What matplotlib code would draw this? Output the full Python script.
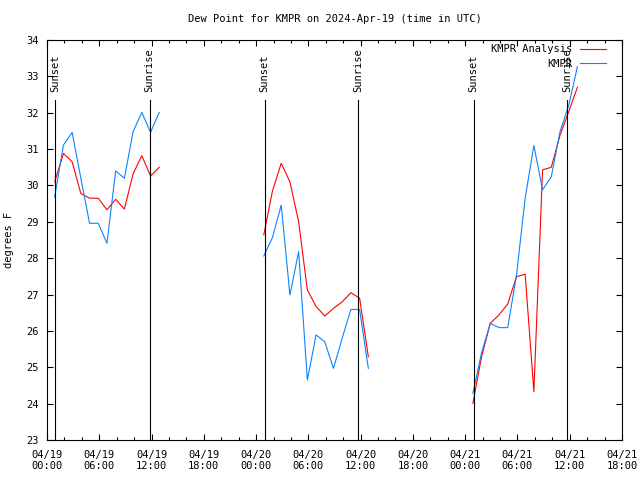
import matplotlib
matplotlib.use('Agg')
import numpy as np
import pandas as pd
import matplotlib.pyplot as plt
import matplotlib.dates as mdates
from matplotlib.ticker import MultipleLocator

# hourly obs times (METAR at :53) for each of the three nights
day_starts = ['2024-04-19 00:53', '2024-04-20 00:53', '2024-04-21 00:53']

# dew point, degrees F
analysis_d1 = [30.10, 30.88, 30.65, 29.78, 29.65, 29.65, 29.33, 29.62, 29.35, 30.32, 30.82, 30.26, 30.50]
obs_d1 = [29.69, 31.11, 31.46, 30.20, 28.96, 28.96, 28.41, 30.40, 30.20, 31.48, 32.01, 31.46, 32.01]

analysis_d2 = [28.64, 29.85, 30.61, 30.10, 29.00, 27.13, 26.67, 26.41, 26.62, 26.80, 27.05, 26.90, 25.29]
obs_d2 = [28.06, 28.57, 29.46, 26.99, 28.18, 24.65, 25.89, 25.70, 24.97, 25.80, 26.59, 26.59, 24.97]

analysis_d3 = [24.01, 25.29, 26.21, 26.44, 26.74, 27.49, 27.56, 24.33, 30.43, 30.50, 31.38, 32.03, 32.70]
obs_d3 = [24.28, 25.40, 26.21, 26.09, 26.09, 27.52, 29.65, 31.10, 29.88, 30.24, 31.48, 32.20, 33.27]

sunsets = ['2024-04-19 00:57', '2024-04-20 00:58', '2024-04-21 00:59']
sunrises = ['2024-04-19 11:46', '2024-04-20 11:44', '2024-04-21 11:43']

analysis = [analysis_d1, analysis_d2, analysis_d3]
obs = [obs_d1, obs_d2, obs_d3]

FONT = 'DejaVu Sans Mono'
FS = 7.5
RED = '#ff0000'
BLUE = '#0a84ff'

fig = plt.figure(figsize=(6.4, 4.8), dpi=100)
ax = fig.add_axes([47/640, 40/480, 575/640, 400/480])

for i, start in enumerate(day_starts):
    t = pd.date_range(start, periods=len(analysis[i]), freq='h')
    ax.plot(t, analysis[i], color=RED, lw=0.8, label='KMPR Analysis' if i == 0 else None)
    ax.plot(t, obs[i], color=BLUE, lw=0.8, label='KMPR' if i == 0 else None)

# sunset / sunrise markers, drawn up to 85% of the graph height
trans = ax.get_xaxis_transform()
for name, times in [('Sunset', sunsets), ('Sunrise', sunrises)]:
    for s in times:
        ts = pd.Timestamp(s)
        ax.plot([ts, ts], [0, 0.85], color='black', lw=0.8, transform=trans)
        ax.text(ts, 0.87, name, rotation=90, ha='center', va='bottom',
                transform=trans, family=FONT, fontsize=FS)

ax.set_xlim(pd.Timestamp('2024-04-19 00:00'), pd.Timestamp('2024-04-21 18:00'))
ax.set_ylim(23, 34)

ax.xaxis.set_major_locator(mdates.HourLocator(byhour=[0, 6, 12, 18]))
ax.xaxis.set_minor_locator(mdates.HourLocator(byhour=range(0, 24, 2)))
ax.xaxis.set_major_formatter(mdates.DateFormatter('%m/%d\n%H:%M'))
ax.yaxis.set_major_locator(MultipleLocator(1))

ax.tick_params(which='both', direction='in', top=True, right=True, width=0.8)
ax.tick_params(which='major', length=4.5)
ax.tick_params(which='minor', length=2.5)
ax.tick_params(axis='y', pad=6)
ax.tick_params(axis='x', pad=7)
for lab in ax.get_xticklabels() + ax.get_yticklabels():
    lab.set_family(FONT)
    lab.set_fontsize(FS)
for sp in ax.spines.values():
    sp.set_linewidth(0.8)

ax.set_title('Dew Point for KMPR on 2024-Apr-19 (time in UTC)', family=FONT, fontsize=FS, pad=13)
ax.set_ylabel('degrees F', family=FONT, fontsize=FS, labelpad=9)

ax.legend(loc='upper right', bbox_to_anchor=(0.98, 1.0), frameon=False, markerfirst=False,
          handlelength=2.5, handletextpad=0.75, labelspacing=0.42, borderaxespad=0,
          prop={'family': FONT, 'size': FS})

fig.savefig('out.png', dpi=100)
